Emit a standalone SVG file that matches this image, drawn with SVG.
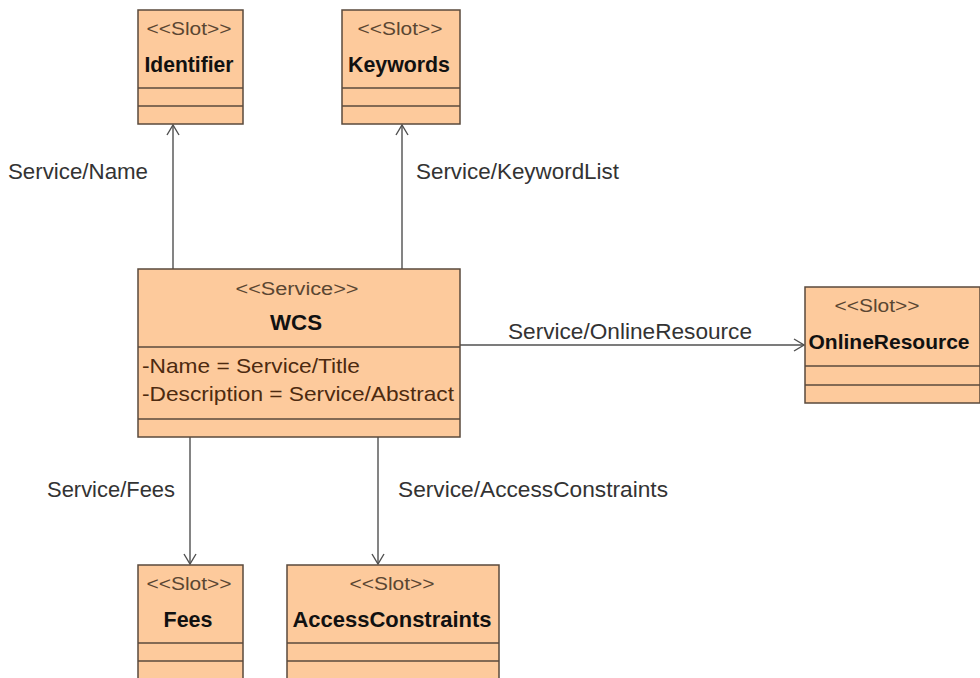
<svg xmlns="http://www.w3.org/2000/svg" width="980" height="678" viewBox="0 0 980 678">
  <style>
    .box { fill: #fdca9c; stroke: #5a4a3c; stroke-width: 1.5; }
    .sep { stroke: #5a4a3c; stroke-width: 1.5; }
    .stereo { font-family: "Liberation Sans", Arial, sans-serif; font-size: 18px; fill: #5a4632; text-anchor: middle; }
    .name { font-family: "Liberation Sans", Arial, sans-serif; font-size: 22.5px; font-weight: bold; fill: #111111; text-anchor: middle; }
    .attr { font-family: "Liberation Sans", Arial, sans-serif; font-size: 21px; fill: #4d2a10; }
    .lbl { font-family: "Liberation Sans", Arial, sans-serif; font-size: 21.5px; fill: #333333; }
    .edge { fill: none; stroke: #505050; stroke-width: 1.4; }
  </style>
  <defs>
    <marker id="open" viewBox="0 0 12 14" refX="11" refY="7" markerWidth="12" markerHeight="14" markerUnits="userSpaceOnUse" orient="auto">
      <path d="M1,1 L11,7 L1,13" fill="none" stroke="#505050" stroke-width="1.4"/>
    </marker>
  </defs>

  <rect width="980" height="678" fill="#ffffff"/>

  <!-- associations -->
  <g id="connectors">
    <line class="edge" x1="173" y1="269" x2="173" y2="125" marker-end="url(#open)"/>
    <line class="edge" x1="402" y1="269" x2="402" y2="125" marker-end="url(#open)"/>
    <line class="edge" x1="460" y1="345" x2="804" y2="345" marker-end="url(#open)"/>
    <line class="edge" x1="190" y1="437" x2="190" y2="564" marker-end="url(#open)"/>
    <line class="edge" x1="378" y1="437" x2="378" y2="564" marker-end="url(#open)"/>
    <text class="lbl" x="8" y="179" textLength="140" lengthAdjust="spacingAndGlyphs">Service/Name</text>
    <text class="lbl" x="416" y="179" textLength="203" lengthAdjust="spacingAndGlyphs">Service/KeywordList</text>
    <text class="lbl" x="508" y="339" textLength="244" lengthAdjust="spacingAndGlyphs">Service/OnlineResource</text>
    <text class="lbl" x="47" y="497" textLength="128" lengthAdjust="spacingAndGlyphs">Service/Fees</text>
    <text class="lbl" x="398" y="497" textLength="270" lengthAdjust="spacingAndGlyphs">Service/AccessConstraints</text>
  </g>

  <g id="identifier">
    <rect class="box" x="138" y="10" width="105" height="114"/>
    <line class="sep" x1="138" y1="88" x2="243" y2="88"/>
    <line class="sep" x1="138" y1="106" x2="243" y2="106"/>
    <text class="stereo" x="189" y="35" textLength="85" lengthAdjust="spacingAndGlyphs">&lt;&lt;Slot&gt;&gt;</text>
    <text class="name" x="189" y="72" textLength="89" lengthAdjust="spacingAndGlyphs">Identifier</text>
  </g>

  <g id="keywords">
    <rect class="box" x="342" y="10" width="118" height="114"/>
    <line class="sep" x1="342" y1="88" x2="460" y2="88"/>
    <line class="sep" x1="342" y1="106" x2="460" y2="106"/>
    <text class="stereo" x="400" y="35" textLength="85" lengthAdjust="spacingAndGlyphs">&lt;&lt;Slot&gt;&gt;</text>
    <text class="name" x="399" y="72" textLength="102" lengthAdjust="spacingAndGlyphs">Keywords</text>
  </g>

  <g id="wcs">
    <rect class="box" x="138" y="269" width="322" height="168"/>
    <line class="sep" x1="138" y1="347" x2="460" y2="347"/>
    <line class="sep" x1="138" y1="419" x2="460" y2="419"/>
    <text class="stereo" x="297" y="295" textLength="123" lengthAdjust="spacingAndGlyphs">&lt;&lt;Service&gt;&gt;</text>
    <text class="name" x="296" y="330" textLength="52" lengthAdjust="spacingAndGlyphs">WCS</text>
    <text class="attr" x="142" y="373" textLength="218" lengthAdjust="spacingAndGlyphs">-Name = Service/Title</text>
    <text class="attr" x="142" y="401" textLength="312" lengthAdjust="spacingAndGlyphs">-Description = Service/Abstract</text>
  </g>

  <g id="onlineresource">
    <rect class="box" x="805" y="287" width="175" height="116"/>
    <line class="sep" x1="805" y1="366" x2="980" y2="366"/>
    <line class="sep" x1="805" y1="385" x2="980" y2="385"/>
    <text class="stereo" x="877" y="312" textLength="85" lengthAdjust="spacingAndGlyphs">&lt;&lt;Slot&gt;&gt;</text>
    <text class="name" x="889" y="349" style="font-size:21px">OnlineResource</text>
  </g>

  <g id="fees">
    <rect class="box" x="138" y="565" width="105" height="130"/>
    <line class="sep" x1="138" y1="643" x2="243" y2="643"/>
    <line class="sep" x1="138" y1="661" x2="243" y2="661"/>
    <text class="stereo" x="189" y="590" textLength="85" lengthAdjust="spacingAndGlyphs">&lt;&lt;Slot&gt;&gt;</text>
    <text class="name" x="188" y="627" textLength="49" lengthAdjust="spacingAndGlyphs">Fees</text>
  </g>

  <g id="accessconstraints">
    <rect class="box" x="287" y="565" width="212" height="130"/>
    <line class="sep" x1="287" y1="643" x2="499" y2="643"/>
    <line class="sep" x1="287" y1="661" x2="499" y2="661"/>
    <text class="stereo" x="392" y="590" textLength="85" lengthAdjust="spacingAndGlyphs">&lt;&lt;Slot&gt;&gt;</text>
    <text class="name" x="392" y="627" textLength="199" lengthAdjust="spacingAndGlyphs">AccessConstraints</text>
  </g>
</svg>
